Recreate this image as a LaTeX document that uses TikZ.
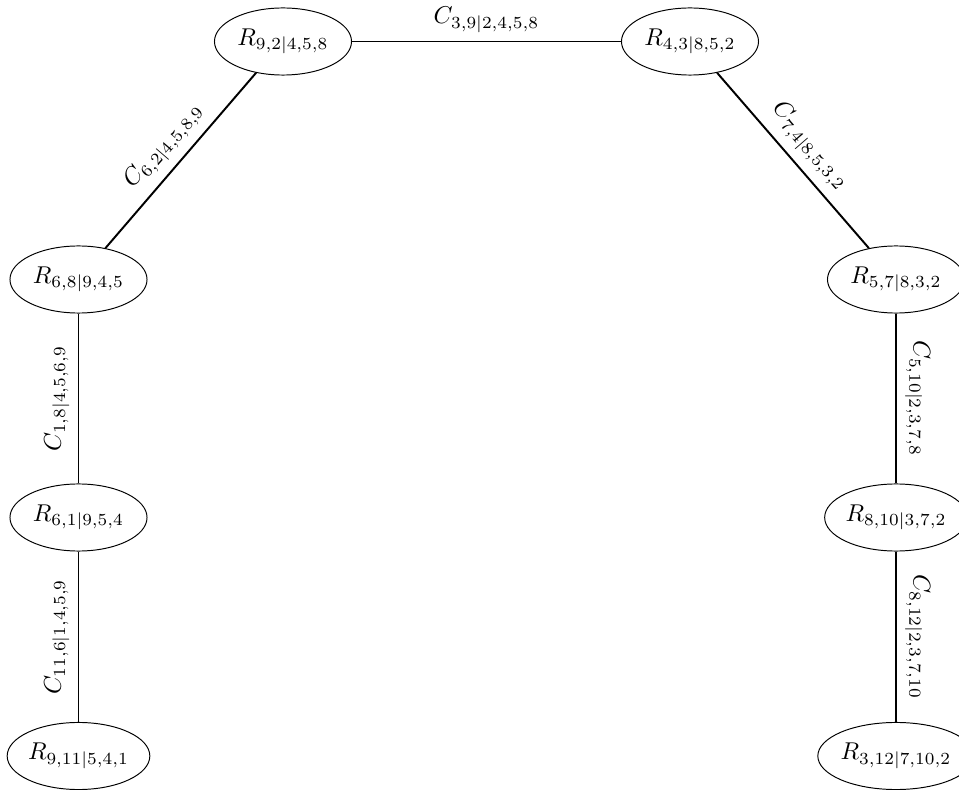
\documentclass[tikz,border=0pt]{standalone}
\usetikzlibrary{shapes.geometric}
\tikzset{
  rnode/.style={draw, ellipse, minimum width=56.4pt, minimum height=27.6pt, inner sep=0pt},
  link/.style={thick},
  lab/.style={midway, above, sloped}
}
\begin{document}
\begin{tikzpicture}[x=0.41152pt, y=-0.41152pt]
  \useasboundingbox (0,0) rectangle (959,790);
  % cluster nodes
  \node[rnode] (r92)  at (283,41.5)  {$R_{9,2|4,5,8}$};
  \node[rnode] (r43)  at (690,41.5)  {$R_{4,3|8,5,2}$};
  \node[rnode] (r68)  at (78.5,279.5) {$R_{6,8|9,4,5}$};
  \node[rnode] (r61)  at (78.5,517.5) {$R_{6,1|9,5,4}$};
  \node[rnode] (r911) at (78.5,756)   {$R_{9,11|5,4,1}$};
  \node[rnode] (r57)  at (896,279.5)  {$R_{5,7|8,3,2}$};
  \node[rnode] (r810) at (896,517.5)  {$R_{8,10|3,7,2}$};
  \node[rnode] (r312) at (896,756)    {$R_{3,12|7,10,2}$};
  % separators
  \draw[link] (r92) -- node[lab] {$C_{3,9|2,4,5,8}$} (r43);
  \draw[link] (r68) -- node[lab] {$C_{6,2|4,5,8,9}$} (r92);
  \draw[link] (r43) -- node[lab] {$C_{7,4|8,5,3,2}$} (r57);
  \draw[link] (r61) -- node[lab] {$C_{1,8|4,5,6,9}$} (r68);
  \draw[link] (r911) -- node[lab] {$C_{11,6|1,4,5,9}$} (r61);
  \draw[link] (r57) -- node[lab] {$C_{5,10|2,3,7,8}$} (r810);
  \draw[link] (r810) -- node[lab] {$C_{8,12|2,3,7,10}$} (r312);
\end{tikzpicture}
\end{document}
